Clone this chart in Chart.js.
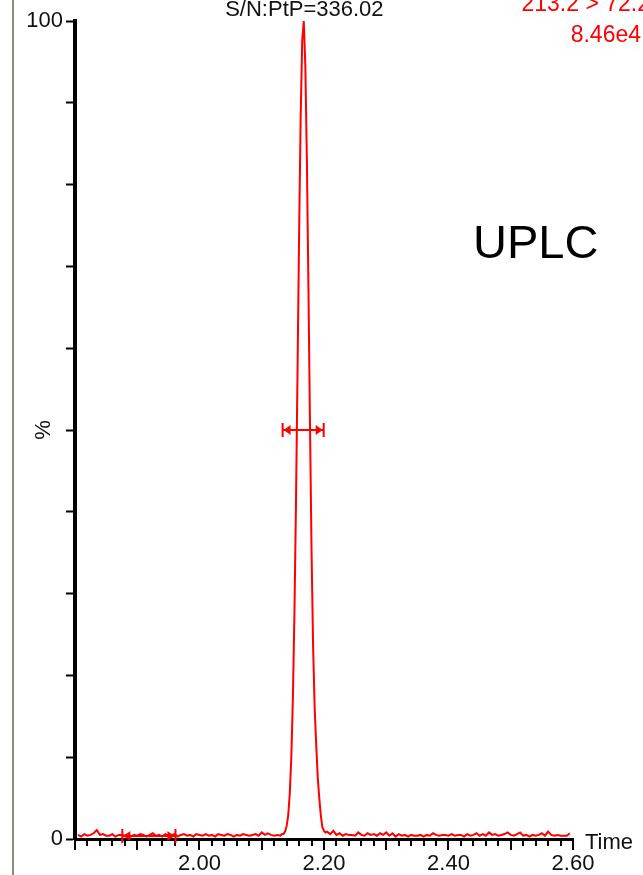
<!DOCTYPE html>
<html>
<head>
<meta charset="utf-8">
<script src="https://cdn.jsdelivr.net/npm/chart.js@4.4.1/dist/chart.umd.min.js"></script>
<style>
html,body{margin:0;padding:0;background:#fff;overflow:hidden}
canvas{display:block}
</style>
</head>
<body>
<canvas id="c" width="643" height="875"></canvas>
<script>
// ---- retention times (min) ----
const baselineLeftTimes = [
  1.805,1.810,1.815,1.820,1.825,1.830,1.835,1.840,1.845,1.850,
  1.855,1.860,1.865,1.870,1.875,1.880,1.885,1.890,1.895,1.900,
  1.905,1.910,1.915,1.920,1.925,1.930,1.935,1.940,1.945,1.950,
  1.955,1.960,1.965,1.970,1.975,1.980,1.985,1.990,1.995,2.000,
  2.005,2.010,2.015,2.020,2.025,2.030,2.035,2.040,2.045,2.050,
  2.055,2.060,2.065,2.070,2.075,2.080,2.085,2.090,2.095,2.100,
  2.105,2.110,2.115,2.120,2.125,2.130
];
const baselineLeftValues = [
  0.5,0.3,0.6,0.4,0.5,0.7,1.1,0.5,0.6,0.4,
  0.4,0.6,0.3,0.5,0.5,0.4,0.6,0.3,0.5,0.4,
  0.6,0.5,0.3,0.5,0.7,0.4,0.5,0.3,0.6,0.4,
  0.5,0.6,0.3,0.5,0.6,0.4,0.5,0.3,0.6,0.5,
  0.4,0.6,0.4,0.5,0.3,0.6,0.5,0.4,0.6,0.5,
  0.3,0.5,0.4,0.6,0.5,0.4,0.5,0.6,0.4,0.8,
  0.5,0.7,0.5,0.4,0.5,0.4
];
const peakTimes = [
  2.1325,2.1350,2.1375,2.1400,2.1425,2.1450,2.1475,2.1500,2.1525,2.1550,
  2.1575,2.1600,2.1625,2.1650,2.1675,2.1700,2.1725,2.1750,2.1775,2.1800,
  2.1825,2.1850,2.1875,2.1900,2.1925,2.1950,2.1975,2.2000,2.2025
];
const peakValues = [
  0.6,0.6,0.9,1.6,2.9,5.5,10.0,17.2,27.5,41.1,
  57.3,73.9,88.2,97.6,100,94.6,83.0,67.4,50.6,35.2,
  23.5,16.0,11.5,7.5,4.9,2.8,1.4,1.0,0.8
];
const baselineRightTimes = [
  2.205,2.210,2.215,2.220,2.225,2.230,2.235,2.240,2.245,2.250,
  2.255,2.260,2.265,2.270,2.275,2.280,2.285,2.290,2.295,2.300,
  2.305,2.310,2.315,2.320,2.325,2.330,2.335,2.340,2.345,2.350,
  2.355,2.360,2.365,2.370,2.375,2.380,2.385,2.390,2.395,2.400,
  2.405,2.410,2.415,2.420,2.425,2.430,2.435,2.440,2.445,2.450,
  2.455,2.460,2.465,2.470,2.475,2.480,2.485,2.490,2.495,2.500,
  2.505,2.510,2.515,2.520,2.525,2.530,2.535,2.540,2.545,2.550,
  2.555,2.560,2.565,2.570,2.575,2.580,2.585,2.590,2.595
];
const baselineRightValues = [
  0.9,0.6,1.0,0.5,0.7,0.4,0.6,0.5,0.5,0.4,
  0.8,0.5,0.4,0.7,0.5,0.6,0.4,0.7,0.5,0.8,
  0.4,0.7,0.3,0.6,0.4,0.5,0.3,0.5,0.4,0.4,
  0.5,0.3,0.5,0.4,0.7,0.5,0.4,0.5,0.5,0.4,
  0.6,0.4,0.5,0.5,0.3,0.6,0.4,0.5,0.7,0.4,
  0.6,0.4,0.8,0.5,0.6,0.4,0.5,0.6,0.8,0.5,
  0.4,0.6,0.8,0.4,0.5,0.3,0.5,0.4,0.5,0.7,
  0.4,0.9,0.5,0.4,0.5,0.4,0.4,0.4,0.7
];

// ---- axis ----
const xRange = [1.80, 2.60];
const xLabelValues = [2.00, 2.20, 2.40, 2.60];
const yLabelValues = [0, 100];

// ---- markers (time from, time to, level %) ----
const fwhmMarker = [2.1335, 2.1995, 50];
const noiseMarker = [1.876, 1.9614, 0.4];

// ---- texts ----
const snText = 'S/N:PtP=336.02';
const snTime = 2.1685;
const channelText = ['213.2 > 72.2', '8.46e4'];
const labelText = 'UPLC';
const xTitle = 'Time';
const yTitle = '%';

const times = baselineLeftTimes.concat(peakTimes, baselineRightTimes);
const intensity = baselineLeftValues.concat(peakValues, baselineRightValues);
const points = times.map((t, i) => ({x: t, y: intensity[i]}));

const RED = '#ff0000';
const FONT = 'Liberation Sans';
const FSIZE = 22;

function drawMarker(c, x, y, m) {
  const x1 = x.getPixelForValue(m[0]);
  const x2 = x.getPixelForValue(m[1]);
  const py = Math.round(y.getPixelForValue(m[2]));
  c.save();
  c.strokeStyle = RED; c.fillStyle = RED; c.lineWidth = 2;
  c.beginPath(); c.moveTo(x1, py); c.lineTo(x2, py); c.stroke();
  c.beginPath(); c.moveTo(x1, py - 7); c.lineTo(x1, py + 7);
  c.moveTo(x2, py - 7); c.lineTo(x2, py + 7); c.stroke();
  c.beginPath(); c.moveTo(x1 + 1, py); c.lineTo(x1 + 8, py - 5); c.lineTo(x1 + 8, py + 5); c.closePath(); c.fill();
  c.beginPath(); c.moveTo(x2 - 1, py); c.lineTo(x2 - 8, py - 5); c.lineTo(x2 - 8, py + 5); c.closePath(); c.fill();
  c.restore();
}

const decor = {
  id: 'decor',
  beforeDraw(chart) {
    const c = chart.ctx;
    c.save();
    c.fillStyle = '#fff';
    c.fillRect(0, 0, chart.width, chart.height);
    c.strokeStyle = '#8c8c84';
    c.lineWidth = 2;
    c.beginPath(); c.moveTo(13, 0); c.lineTo(13, chart.height); c.stroke();
    c.restore();
  },
  afterDraw(chart) {
    const c = chart.ctx;
    const x = chart.scales.x, y = chart.scales.y;
    c.save();
    c.strokeStyle = '#000'; c.lineWidth = 2;
    const y0 = y.bottom + 1;
    x.ticks.forEach(t => {
      const k = Math.round(t.value * 100);
      const len = (k % 10 === 0) ? 10 : 6;
      const px = Math.round(x.getPixelForValue(t.value));
      c.beginPath(); c.moveTo(px, y0); c.lineTo(px, y0 + len); c.stroke();
    });
    c.restore();
    drawMarker(c, x, y, fwhmMarker);
    drawMarker(c, x, y, noiseMarker);
    c.save();
    c.textBaseline = 'alphabetic';
    c.font = FSIZE + 'px "' + FONT + '"';
    c.fillStyle = '#111';
    c.textAlign = 'center';
    c.fillText(snText, x.getPixelForValue(snTime), 16);
    c.textAlign = 'left';
    c.fillText(xTitle, 585, 849);
    c.fillStyle = RED;
    c.textAlign = 'right';
    c.font = '23px "' + FONT + '"';
    c.fillText(channelText[0], 650, 11);
    c.fillText(channelText[1], 641, 42);
    c.fillStyle = '#000';
    c.textAlign = 'left';
    c.font = '47px "Liberation Sans"';
    c.fillText(labelText, 473, 258);
    c.restore();
  }
};

new Chart(document.getElementById('c'), {
  type: 'line',
  data: {
    datasets: [{
      data: points,
      borderColor: RED,
      borderWidth: 2,
      pointRadius: 0,
      tension: 0,
      fill: false
    }]
  },
  options: {
    responsive: false,
    animation: false,
    events: [],
    layout: {padding: {left: 0, right: 70, top: 21, bottom: 0}},
    plugins: {legend: {display: false}, tooltip: {enabled: false}, title: {display: false}},
    scales: {
      x: {
        type: 'linear',
        min: xRange[0], max: xRange[1],
        ticks: {
          stepSize: 0.02, autoSkip: false, maxRotation: 0, minRotation: 0, padding: 2,
          color: '#111', font: {family: FONT, size: FSIZE},
          callback: v => {
            const hit = xLabelValues.find(l => Math.abs(l - v) < 1e-6);
            return hit !== undefined ? hit.toFixed(2) : '';
          }
        },
        grid: {display: false, drawTicks: true, tickLength: 10},
        border: {display: true, width: 3, color: '#000'},
        afterFit(s) { s.height = 36; }
      },
      y: {
        type: 'linear',
        min: 0, max: 100,
        ticks: {
          stepSize: 10, autoSkip: false, padding: 3,
          color: '#111', font: {family: FONT, size: FSIZE},
          callback: v => yLabelValues.includes(v) ? String(v) : ''
        },
        grid: {drawOnChartArea: false, drawTicks: true, tickLength: 9, tickWidth: 2, tickColor: '#000'},
        border: {display: true, width: 4, color: '#000'},
        title: {display: true, text: yTitle, color: '#111', font: {family: FONT, size: FSIZE}, padding: {top: 31, bottom: 0}},
        afterFit(s) { s.width = 75; }
      }
    }
  },
  plugins: [decor]
});
</script>
</body>
</html>
